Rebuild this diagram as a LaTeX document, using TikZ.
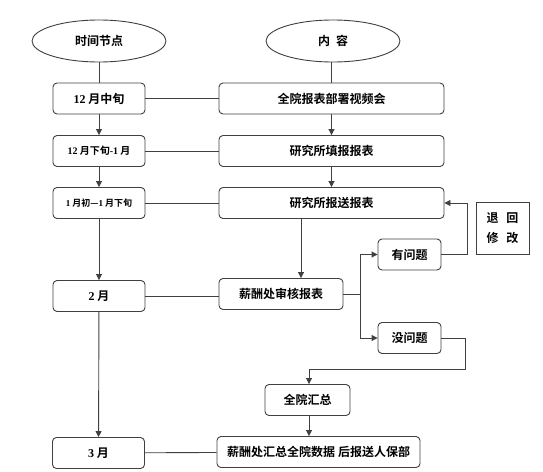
\documentclass[tikz,border=0pt]{standalone}
\usepackage{fontspec}
\setmainfont{Liberation Serif}
\newfontfamily\zh{Noto Sans CJK SC}[BoldFont={Noto Sans CJK SC Bold}]
\usetikzlibrary{shapes.geometric,arrows.meta}
\begin{document}
\begin{tikzpicture}[x=1pt,y=-1pt,
  base/.style={draw=black!75, line width=0.9pt, inner sep=0pt, font=\bfseries\zh\fontsize{12}{14}\selectfont},
  box/.style={base, rounded corners=4pt, minimum width=#1, minimum height=31pt},
  oval/.style={base, ellipse, minimum width=134pt, minimum height=42pt},
  ln/.style={draw=black!75, line width=0.9pt},
  arr/.style={ln, -{Triangle[width=6pt,length=6pt]}}]
\useasboundingbox (0,0) rectangle (543,471);
% header ovals
\node[oval] (e1) at (99,41) {时间节点};
\node[oval] (e2) at (333,41) {内\hspace{6pt}容};
% left column
\node[box=92pt] (l1) at (99,98.5) {{\rmfamily 12} 月中旬};
\node[box=92pt] (l2) at (99,151) {\fontsize{10}{12}\selectfont{\rmfamily 12} 月下旬{\rmfamily -1} 月};
\node[box=92pt] (l3) at (99,203) {\fontsize{9}{11}\selectfont{\rmfamily 1} 月初—{\rmfamily 1} 月下旬};
\node[box=92pt] (l4) at (99,296) {{\rmfamily 2} 月};
\node[box=92pt] (l5) at (98.5,453) {{\rmfamily 3} 月};
% right column
\node[box=225pt] (r1) at (331.5,98.5) {全院报表部署视频会};
\node[box=225pt] (r2) at (331.5,151) {研究所填报报表};
\node[box=225pt] (r3) at (331.5,203) {研究所报送报表};
\node[box=124pt] (r4) at (281,294) {薪酬处审核报表};
\node[box=63pt] (q1) at (409.5,254.5) {有问题};
\node[box=63pt] (q2) at (409.5,338) {没问题};
\node[box=85pt] (s1) at (307.5,400) {全院汇总};
\node[box=203pt] (fin) at (318.5,452) {薪酬处汇总全院数据\hspace{3pt}后报送人保部};
\node[base, minimum width=53pt, minimum height=52pt, align=center] (rb) at (502.5,228)
  {退\hspace{8pt}回\\[6pt]修\hspace{8pt}改};
% connectors
\draw[ln] (e1) -- (l1);
\draw[ln] (e2.south -| r2.north) -- (r1.north);
\draw[arr] (l1) -- (l2);
\draw[arr] (l2) -- (l3);
\draw[arr] (l3) -- (l4);
\draw[arr] (l4) -- (l5);
\draw[ln] (l1) -- (r1);
\draw[ln] (l2) -- (r2);
\draw[ln] (l3) -- (r3);
\draw[ln] (l4.east) -- (l4.east -| r4.west);
\draw[ln] (l5) -- (fin);
\draw[arr] (r1) -- (r2);
\draw[arr] (r2) -- (r3);
\coordinate (c1) at (301,0);
\draw[arr] (r3.south -| c1) -- (r4.north -| c1);
\coordinate (sp) at (360,294);
\draw[ln] (r4.east) -- (sp);
\draw[arr] (sp) |- (q1.west);
\draw[arr] (sp) |- (q2.west);
\coordinate (rt) at (467,0);
\draw[arr] (q1.east) -- (q1.east -| rt) |- (r3.east);
\coordinate (nb1) at (465,369);
\coordinate (nb2) at (309,369);
\draw[arr] (q2.east) -| (nb1) -- (nb2) -- (nb2 |- s1.north);
\draw[arr] (s1.south -| nb2) -- (fin.north -| nb2);
\end{tikzpicture}
\end{document}
